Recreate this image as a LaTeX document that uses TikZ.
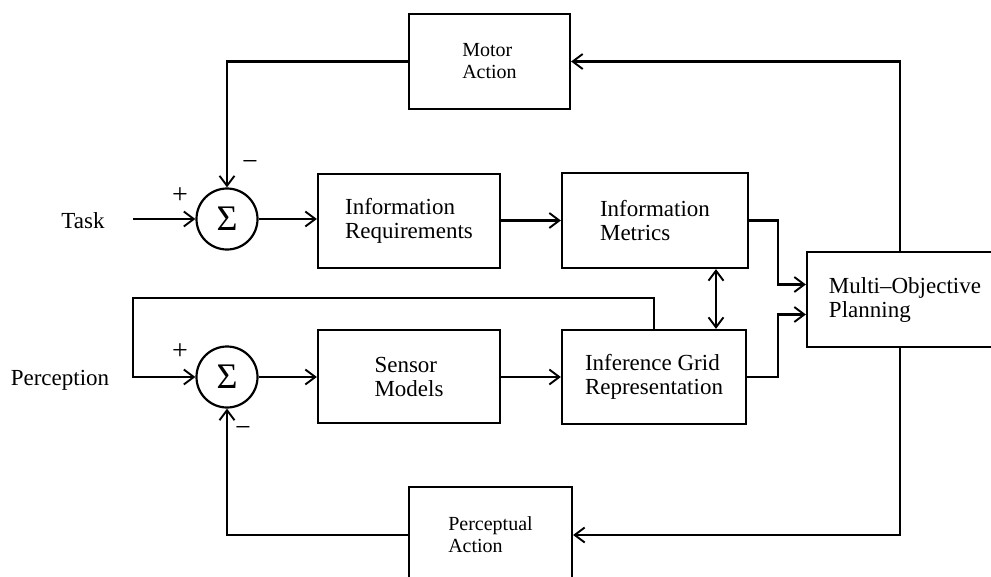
\documentclass[tikz,border=0pt]{standalone}
\usepackage{fontspec}
\setmainfont{Liberation Serif}
\usetikzlibrary{arrows.meta,calc}
\begin{document}
\begin{tikzpicture}[x=1pt,y=-1pt,
  line width=2.2pt,
  >={Straight Barb[length=10pt,width=15pt,line width=1.9pt]},
  blk/.style={draw,rectangle,inner sep=0pt,align=left,font=\fontsize{23}{24}\selectfont},
  sblk/.style={draw,rectangle,inner sep=0pt,align=left,font=\fontsize{20}{22}\selectfont},
  sumnode/.style={draw,circle,minimum size=61pt,inner sep=0pt,font=\fontsize{36}{36}\selectfont},
  lbl/.style={font=\fontsize{23}{24}\selectfont},
  sgn/.style={font=\fontsize{28}{28}\selectfont,inner sep=0pt}]
\useasboundingbox (0,0) rectangle (991,576);
\begin{scope}
\clip (0,0) rectangle (991,576);
% nodes
\node[sblk,minimum width=161pt,minimum height=95pt] (motor) at (489.5,61.5) {Motor\\Action};
\node[sumnode] (s1) at (227,219) {Σ};
\node[blk,minimum width=182pt,minimum height=94pt] (ireq) at (409,221) {Information\\Requirements};
\node[blk,minimum width=186pt,minimum height=95pt] (imet) at (655,220.5) {Information\\Metrics};
\node[blk,minimum width=196pt,minimum height=95pt] (multi) at (905,299.5) {Multi–Objective\\Planning};
\node[sumnode] (s2) at (227,377) {Σ};
\node[blk,minimum width=182pt,minimum height=93pt] (sens) at (409,376.5) {Sensor\\Models};
\node[blk,minimum width=184pt,minimum height=94pt] (infer) at (654,377) {Inference Grid\\Representation};
\node[sblk,minimum width=163pt,minimum height=96pt] (percep) at (490.5,535) {Perceptual\\Action};
\node[lbl] (task) at (83,221) {Task};
\node[lbl] (perc) at (60,380) {Perception};
\node[sgn] (p1) at (180,196) {+};
\node[sgn] (m1) at (250,165) {−};
\node[sgn] (p2) at (180,352) {+};
\node[sgn] (m2) at (243,431) {−};
% helper coordinates
\coordinate (tin) at (133,219);
\coordinate (mx) at (900,0);
\coordinate (dx) at (716,0);
\coordinate (jx) at (778,0);
\coordinate (fbx) at (133,298);
% connectors
\draw[->] (motor.west) -| (s1.north);
\draw[->] (mx |- multi.north) |- (motor.east);
\draw[->] (tin) -- (s1.west);
\draw[->] (s1.east) -- (s1.east -| ireq.west);
\draw[->] (ireq.east |- imet.west) -- (imet.west);
\draw[->] (imet.east) -| (jx |- {$(multi.west)+(0,-15)$}) -- ($(multi.west)+(0,-15)$);
\draw[->] (infer.east) -| (jx |- {$(multi.west)+(0,15)$}) -- ($(multi.west)+(0,15)$);
\draw[<->] (dx |- imet.south) -- (dx |- infer.north);
\draw[->] (infer.north) |- (fbx) |- (s2.west);
\draw[->] (mx |- multi.south) |- (percep.east);
\draw[->] (percep.west) -| (s2.south);
\draw[->] (s2.east) -- (s2.east -| sens.west);
\draw[->] (sens.east |- infer.west) -- (infer.west);
\end{scope}
\end{tikzpicture}
\end{document}
